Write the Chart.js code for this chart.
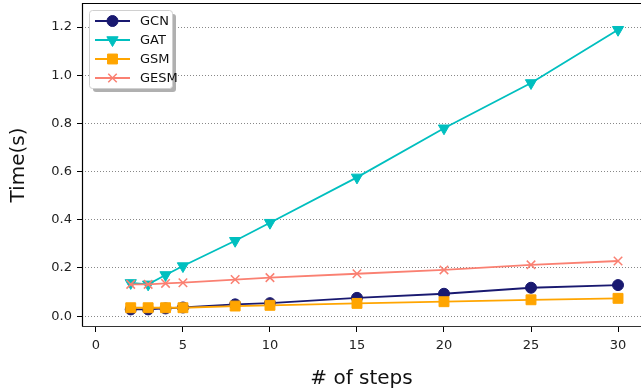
<!DOCTYPE html>
<html>
<head>
<meta charset="utf-8">
<script src="https://cdn.jsdelivr.net/npm/chart.js@4"></script>
<style>
  html, body { margin: 0; padding: 0; background: #fff; }
  #wrap { width: 641px; height: 389px; }
</style>
</head>
<body>
<div id="wrap"><canvas id="grafico"></canvas></div>
<script>
// Datos
const pasos = [2, 3, 4, 5, 8, 10, 15, 20, 25, 30];
const tiempoGCN  = [0.028, 0.028, 0.032, 0.036, 0.049, 0.054, 0.076, 0.093, 0.118, 0.129];
const tiempoGAT  = [0.138, 0.132, 0.171, 0.208, 0.313, 0.388, 0.576, 0.780, 0.968, 1.189];
const tiempoGSM  = [0.035, 0.035, 0.035, 0.035, 0.042, 0.045, 0.053, 0.060, 0.068, 0.074];
const tiempoGESM = [0.132, 0.132, 0.136, 0.139, 0.152, 0.160, 0.176, 0.192, 0.213, 0.229];
const ticksX = [0, 5, 10, 15, 20, 25, 30];
const ticksY = [0.0, 0.2, 0.4, 0.6, 0.8, 1.0, 1.2];

const fuente = "'DejaVu Sans', sans-serif";

// Los marcadores no deben reservar margen extra alrededor del área
Chart.registry.getController('line').prototype.getMaxOverflow = function () { return 0; };

function serie(nombre, valores, color, marcador, radio, giro, orden) {
  return {
    label: nombre,
    data: pasos.map((x, i) => ({ x, y: valores[i] })),
    borderColor: color,
    backgroundColor: color,
    borderWidth: 1.8,
    pointStyle: marcador,
    pointRadius: radio,
    pointHoverRadius: radio,
    pointRotation: giro || 0,
    pointBorderWidth: marcador === 'crossRot' ? 1.5 : 1,
    tension: 0,
    order: orden // las series posteriores quedan encima
  };
}

// Marco de los ejes (sin borde derecho, queda fuera del lienzo)
const marco = {
  id: 'marco',
  afterDraw(chart) {
    const { ctx, chartArea: a } = chart;
    ctx.save();
    ctx.strokeStyle = '#000';
    ctx.lineWidth = 1.2;
    ctx.beginPath();
    ctx.moveTo(chart.width, a.top + 0.5);
    ctx.lineTo(a.left + 0.5, a.top + 0.5);
    ctx.lineTo(a.left + 0.5, a.bottom - 0.5);
    ctx.stroke();
    ctx.strokeStyle = '#333';
    ctx.beginPath();
    ctx.moveTo(a.left, a.bottom - 0.5);
    ctx.lineTo(chart.width, a.bottom - 0.5);
    ctx.stroke();
    ctx.restore();
  }
};

// Leyenda dentro del área con sombra
const leyenda = {
  id: 'leyenda',
  afterDraw(chart) {
    const { ctx } = chart;
    const x = 89, y = 10, w = 83, h = 78;
    ctx.save();
    ctx.fillStyle = '#b0b0b0';
    ctx.beginPath();
    ctx.roundRect(x + 4, y + 4, w, h, 3);
    ctx.fill();
    ctx.fillStyle = '#fff';
    ctx.strokeStyle = '#d0d0d0';
    ctx.lineWidth = 1;
    ctx.beginPath();
    ctx.roundRect(x + 0.5, y + 0.5, w, h, 3);
    ctx.fill();
    ctx.stroke();
    chart.data.datasets.forEach((ds, i) => {
      const cy = y + 11 + i * 19;
      ctx.strokeStyle = ds.borderColor;
      ctx.fillStyle = ds.backgroundColor;
      ctx.lineWidth = 1.8;
      ctx.beginPath();
      ctx.moveTo(x + 6, cy);
      ctx.lineTo(x + 41, cy);
      ctx.stroke();
      ctx.lineWidth = ds.pointBorderWidth;
      Chart.helpers.drawPoint(ctx, {
        pointStyle: ds.pointStyle,
        radius: ds.pointRadius,
        rotation: ds.pointRotation,
        borderWidth: ds.pointBorderWidth
      }, x + 23.5, cy);
      ctx.fillStyle = '#111';
      ctx.font = '13px ' + fuente;
      ctx.textBaseline = 'middle';
      ctx.fillText(ds.label, x + 51, cy + 1);
    });
    ctx.restore();
  }
};

new Chart(document.getElementById('grafico'), {
  type: 'line',
  data: {
    datasets: [
      serie('GCN', tiempoGCN, '#191970', 'circle', 5.5, 0, 4),
      serie('GAT', tiempoGAT, '#00bfbf', 'triangle', 6.5, 180, 3),
      serie('GSM', tiempoGSM, '#ffa500', 'rect', 7, 0, 2),
      serie('GESM', tiempoGESM, '#fa8072', 'crossRot', 6, 0, 1)
    ]
  },
  options: {
    responsive: true,
    maintainAspectRatio: false,
    animation: false,
    layout: { padding: { top: 3, right: 0, left: 0, bottom: 0 } },
    plugins: { legend: { display: false }, tooltip: { enabled: false } },
    scales: {
      x: {
        type: 'linear',
        min: -0.8,
        max: 31.32,
        afterBuildTicks: s => { s.ticks = ticksX.map(v => ({ value: v })); },
        afterFit: s => { s.height = 62; s.paddingLeft = 0; s.paddingRight = 0; },
        border: { display: false },
        grid: { drawOnChartArea: false, drawTicks: true, tickLength: 5, color: '#000' },
        ticks: { color: '#222', font: { family: fuente, size: 13 }, padding: 6, maxRotation: 0 },
        title: { display: true, text: '# of steps', color: '#111', font: { family: fuente, size: 20 }, padding: { top: 0, bottom: -2 } }
      },
      y: {
        min: -0.045,
        max: 1.3,
        afterBuildTicks: s => { s.ticks = ticksY.map(v => ({ value: v })); },
        afterFit: s => { s.width = 82; s.paddingTop = 0; s.paddingBottom = 0; },
        border: { display: false, dash: [1, 2] },
        grid: { color: '#888', lineWidth: 1, tickLength: 5, tickColor: '#000', tickBorderDash: [] },
        ticks: { color: '#222', font: { family: fuente, size: 13, lineHeight: 0.4 }, padding: 5, callback: v => v.toFixed(1) },
        title: { display: true, text: 'Time(s)', color: '#111', font: { family: fuente, size: 20 }, padding: { top: 7, bottom: 0 } }
      }
    }
  },
  plugins: [marco, leyenda]
});
</script>
</body>
</html>
